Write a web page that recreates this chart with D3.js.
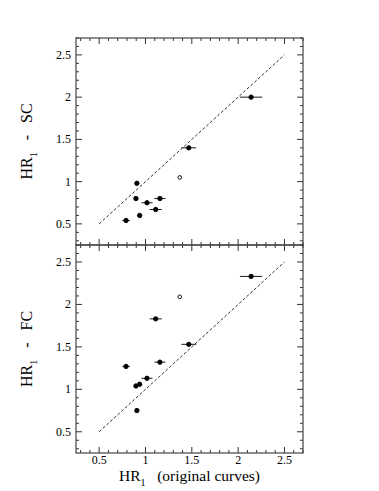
<!DOCTYPE html>
<html>
<head>
<meta charset="utf-8">
<script src="https://cdn.jsdelivr.net/npm/d3@7"></script>
<style>
  body { margin: 0; background: #fff; }
  text { font-family: "Liberation Serif", "DejaVu Serif", serif; }
</style>
</head>
<body>
<div id="chart"></div>
<script>
// x values (original curves) shared by both panels
var hrOrig = [2.14, 1.467, 1.37, 0.907, 0.897, 1.016, 1.156, 1.11, 0.937, 0.79]
var hrOrigErr = [0.12, 0.08, 0.02, 0.02, 0.02, 0.06, 0.06, 0.065, 0.02, 0.04]
var hrSC = [2.0, 1.40, 1.05, 0.98, 0.80, 0.75, 0.80, 0.67, 0.60, 0.54]
var hrFC = [2.33, 1.53, 2.09, 0.75, 1.04, 1.13, 1.32, 1.83, 1.06, 1.27]
var openPoint = [false, false, true, false, false, false, false, false, false, false]
var tickVals = [0.5, 1, 1.5, 2, 2.5]
var tickLabels = ["0.5", "1", "1.5", "2", "2.5"]
var panelNames = ["SC", "FC"]

var width = 379, height = 491
var left = 76, right = 303
var panels = [{top: 38, bottom: 245, ys: hrSC, name: panelNames[0]},
              {top: 245, bottom: 453, ys: hrFC, name: panelNames[1]}]

var svg = d3.select("#chart").append("svg")
  .attr("width", width)
  .attr("height", height)

var x = d3.scaleLinear().domain([0.25, 2.7]).range([left, right])
var minor = d3.range(3, 28).map(function(d){ return d / 10 })

panels.forEach(function(p, pi) {
  var y = d3.scaleLinear().domain([0.25, 2.7]).range([p.bottom, p.top])
  var g = svg.append("g")

  // ticks inward on all sides
  minor.forEach(function(t) {
    var major = Math.abs(t * 2 - Math.round(t * 2)) < 1e-6
    var len = major ? 6 : 3
    var xx = x(t), yy = y(t)
    g.append("line").attr("x1", xx).attr("x2", xx).attr("y1", p.bottom).attr("y2", p.bottom - len)
    g.append("line").attr("x1", xx).attr("x2", xx).attr("y1", p.top).attr("y2", p.top + len)
    g.append("line").attr("y1", yy).attr("y2", yy).attr("x1", left).attr("x2", left + len)
    g.append("line").attr("y1", yy).attr("y2", yy).attr("x1", right).attr("x2", right - len)
  })
  g.selectAll("line").attr("stroke", "#333").attr("stroke-width", 1)

  g.append("rect")
    .attr("x", left).attr("y", p.top)
    .attr("width", right - left).attr("height", p.bottom - p.top)
    .attr("fill", "none").attr("stroke", "#444").attr("stroke-width", 1.2)

  // y tick labels
  tickVals.forEach(function(t, i) {
    g.append("text")
      .attr("x", 71).attr("y", y(t) + 4)
      .attr("text-anchor", "end")
      .style("font-size", "12px")
      .text(tickLabels[i])
  })

  // dashed 1:1 line
  g.append("line")
    .attr("x1", x(0.5)).attr("y1", y(0.5))
    .attr("x2", x(2.5)).attr("y2", y(2.5))
    .attr("stroke", "#000").attr("stroke-width", 0.8)
    .attr("stroke-dasharray", "3,2")

  // error bars
  g.selectAll(".err").data(hrOrig).enter().append("line")
    .attr("x1", function(d, i){ return x(d - hrOrigErr[i]) })
    .attr("x2", function(d, i){ return x(d + hrOrigErr[i]) })
    .attr("y1", function(d, i){ return y(p.ys[i]) })
    .attr("y2", function(d, i){ return y(p.ys[i]) })
    .attr("stroke", "#000").attr("stroke-width", 0.9)

  // points
  g.selectAll(".pt").data(hrOrig).enter().append("circle")
    .attr("cx", function(d){ return x(d) })
    .attr("cy", function(d, i){ return y(p.ys[i]) })
    .attr("r", function(d, i){ return openPoint[i] ? 1.8 : 2.2 })
    .attr("fill", function(d, i){ return openPoint[i] ? "#fff" : "#000" })
    .attr("stroke", "#000").attr("stroke-width", 0.9)

  // y axis label
  var cy = (p.top + p.bottom) / 2
  var lab = svg.append("text")
    .attr("transform", "translate(32," + cy + ") rotate(-90)")
    .attr("text-anchor", "middle")
    .style("font-size", "16px")
  lab.append("tspan").text("HR")
  lab.append("tspan").attr("dy", 5).style("font-size", "10px").text("1")
  lab.append("tspan").attr("dy", -5).text("\u00a0\u00a0 -\u00a0\u00a0 " + p.name)
})

// x tick labels
tickVals.forEach(function(t, i) {
  svg.append("text")
    .attr("x", x(t)).attr("y", 464)
    .attr("text-anchor", "middle")
    .style("font-size", "12px")
    .text(tickLabels[i])
})

// x label
var xl = svg.append("text")
  .attr("x", (left + right) / 2).attr("y", 481)
  .attr("text-anchor", "middle")
  .style("font-size", "15.5px")
xl.append("tspan").text("HR")
xl.append("tspan").attr("dy", 5).style("font-size", "10px").text("1")
xl.append("tspan").attr("dy", -5).text("\u00a0\u00a0 (original curves)")
</script>
</body>
</html>
